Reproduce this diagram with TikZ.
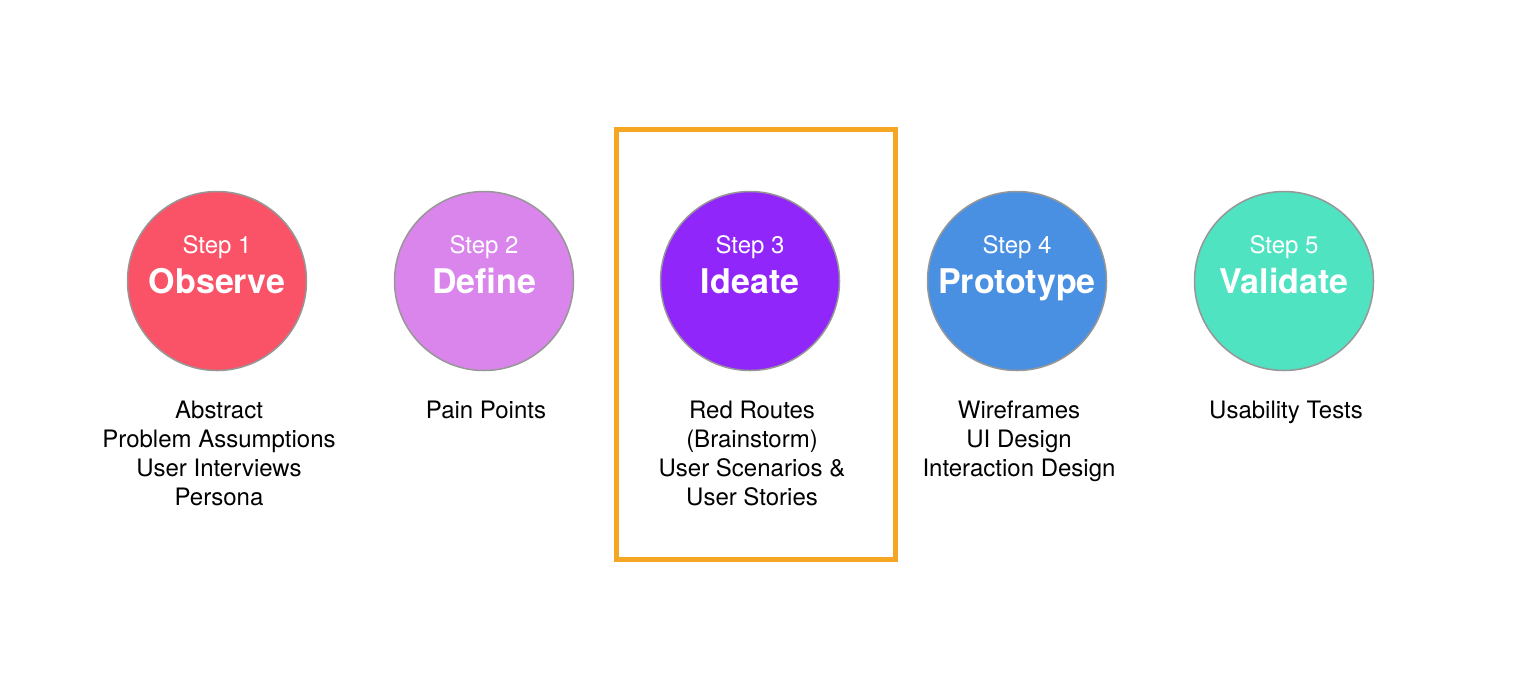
\documentclass[tikz,border=0pt]{standalone}
\usepackage{fontspec}
\setmainfont{TeX Gyre Heros}
\definecolor{observecol}{RGB}{250,83,104}
\definecolor{definecol}{RGB}{218,133,236}
\definecolor{ideatecol}{RGB}{145,38,250}
\definecolor{prototypecol}{RGB}{74,144,226}
\definecolor{validatecol}{RGB}{80,227,194}
\definecolor{framecol}{RGB}{245,166,35}
\definecolor{bordergray}{RGB}{151,151,151}
\begin{document}
\begin{tikzpicture}[x=0.5pt,y=-0.5pt,
		stepcircle/.style={circle,draw=bordergray,line width=0.75pt,minimum size=89.5pt,inner sep=0pt},
		steplabel/.style={text=white,anchor=base,inner sep=0pt,font=\fontsize{12pt}{14pt}\selectfont},
		steptitle/.style={text=white,anchor=base,inner sep=0pt,font=\fontsize{17pt}{20pt}\selectfont\bfseries},
		stepdesc/.style={align=center,anchor=north,inner sep=0pt,font=\fontsize{12pt}{14.5pt}\selectfont}]
		\useasboundingbox (0,0) rectangle (1524,698);
		
		%Markierung
		\draw[line width=2.5pt,draw=framecol] (616.5,129.5) rectangle (895.5,559.5);
		
		%Schritte
		\foreach \x/\n/\name/\col/\desc in {
			217/1/Observe/observecol/{Abstract\\Problem Assumptions\\User Interviews\\Persona},
			484/2/Define/definecol/{Pain Points},
			750/3/Ideate/ideatecol/{Red Routes\\(Brainstorm)\\User Scenarios \&\\User Stories},
			1017/4/Prototype/prototypecol/{Wireframes\\UI Design\\Interaction Design},
			1284/5/Validate/validatecol/{Usability Tests}}
		{
			\node[stepcircle,fill=\col] (step\n) at (\x,281) {};
			\node[steplabel] (label\n) at (\x,253) {Step \n};
			\node[steptitle] (title\n) at (\x,293) {\name};
			\node[stepdesc] (desc\n) at (\x+2,400.5) {\desc};
		}
	\end{tikzpicture}
\end{document}
